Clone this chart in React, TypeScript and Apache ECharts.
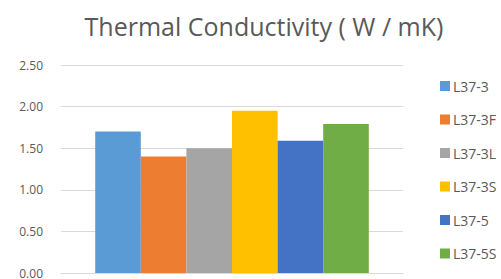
import React, { useEffect, useRef } from "react";
import * as echarts from "echarts";

const title = "Thermal Conductivity ( W / mK)";
const seriesNames = ["L37-3", "L37-3F", "L37-3L", "L37-3S", "L37-5", "L37-5S"];
const seriesValues = [1.7, 1.4, 1.5, 1.95, 1.59, 1.79];
const colors = ["#5B9BD5", "#ED7D31", "#A5A5A5", "#FFC000", "#4472C4", "#70AD47"];
const categories = [""];

export default function App() {
  const ref = useRef<HTMLDivElement>(null);
  useEffect(() => {
    if (!ref.current) return;
    const chart = echarts.init(ref.current, undefined, { renderer: "svg" });
    const font = "'Open Sans', 'Liberation Sans', sans-serif";
    chart.setOption({
      animation: false,
      backgroundColor: "#ffffff",
      title: {
        text: title,
        left: 259,
        textAlign: "center",
        top: 8,
        textStyle: { fontFamily: font, fontSize: 25, fontWeight: "normal", color: "#595959" },
      },
      grid: { left: 61, right: 98, top: 65, bottom: 4 },
      legend: {
        orient: "vertical",
        left: 435,
        top: 74,
        itemWidth: 10,
        itemHeight: 10,
        itemGap: 19.5,
        icon: "rect",
        textStyle: { fontFamily: font, fontSize: 14, color: "#595959", padding: [0, 0, 0, -2] },
        data: seriesNames,
      },
      xAxis: {
        type: "category",
        data: categories,
        axisLine: { show: true, lineStyle: { color: "#D9D9D9", width: 1 } },
        axisTick: { show: false },
        axisLabel: { show: false },
      },
      yAxis: {
        type: "value",
        min: 0,
        max: 2.5,
        interval: 0.5,
        axisLine: { show: false },
        axisTick: { show: false },
        axisLabel: {
          margin: 18,
          fontFamily: font,
          fontSize: 12,
          color: "#595959",
          formatter: (v: number) => v.toFixed(2),
        },
        splitLine: { lineStyle: { color: "#D9D9D9", width: 1 } },
      },
      series: seriesNames.map((name, i) => ({
        name,
        type: "bar",
        data: [seriesValues[i]],
        itemStyle: { color: colors[i] },
        barGap: "0%",
        barCategoryGap: "20%",
      })),
    });
    return () => chart.dispose();
  }, []);
  return (
    <div
      ref={ref}
      style={{ position: "fixed", left: 0, top: 0, width: 501, height: 279 }}
    />
  );
}
